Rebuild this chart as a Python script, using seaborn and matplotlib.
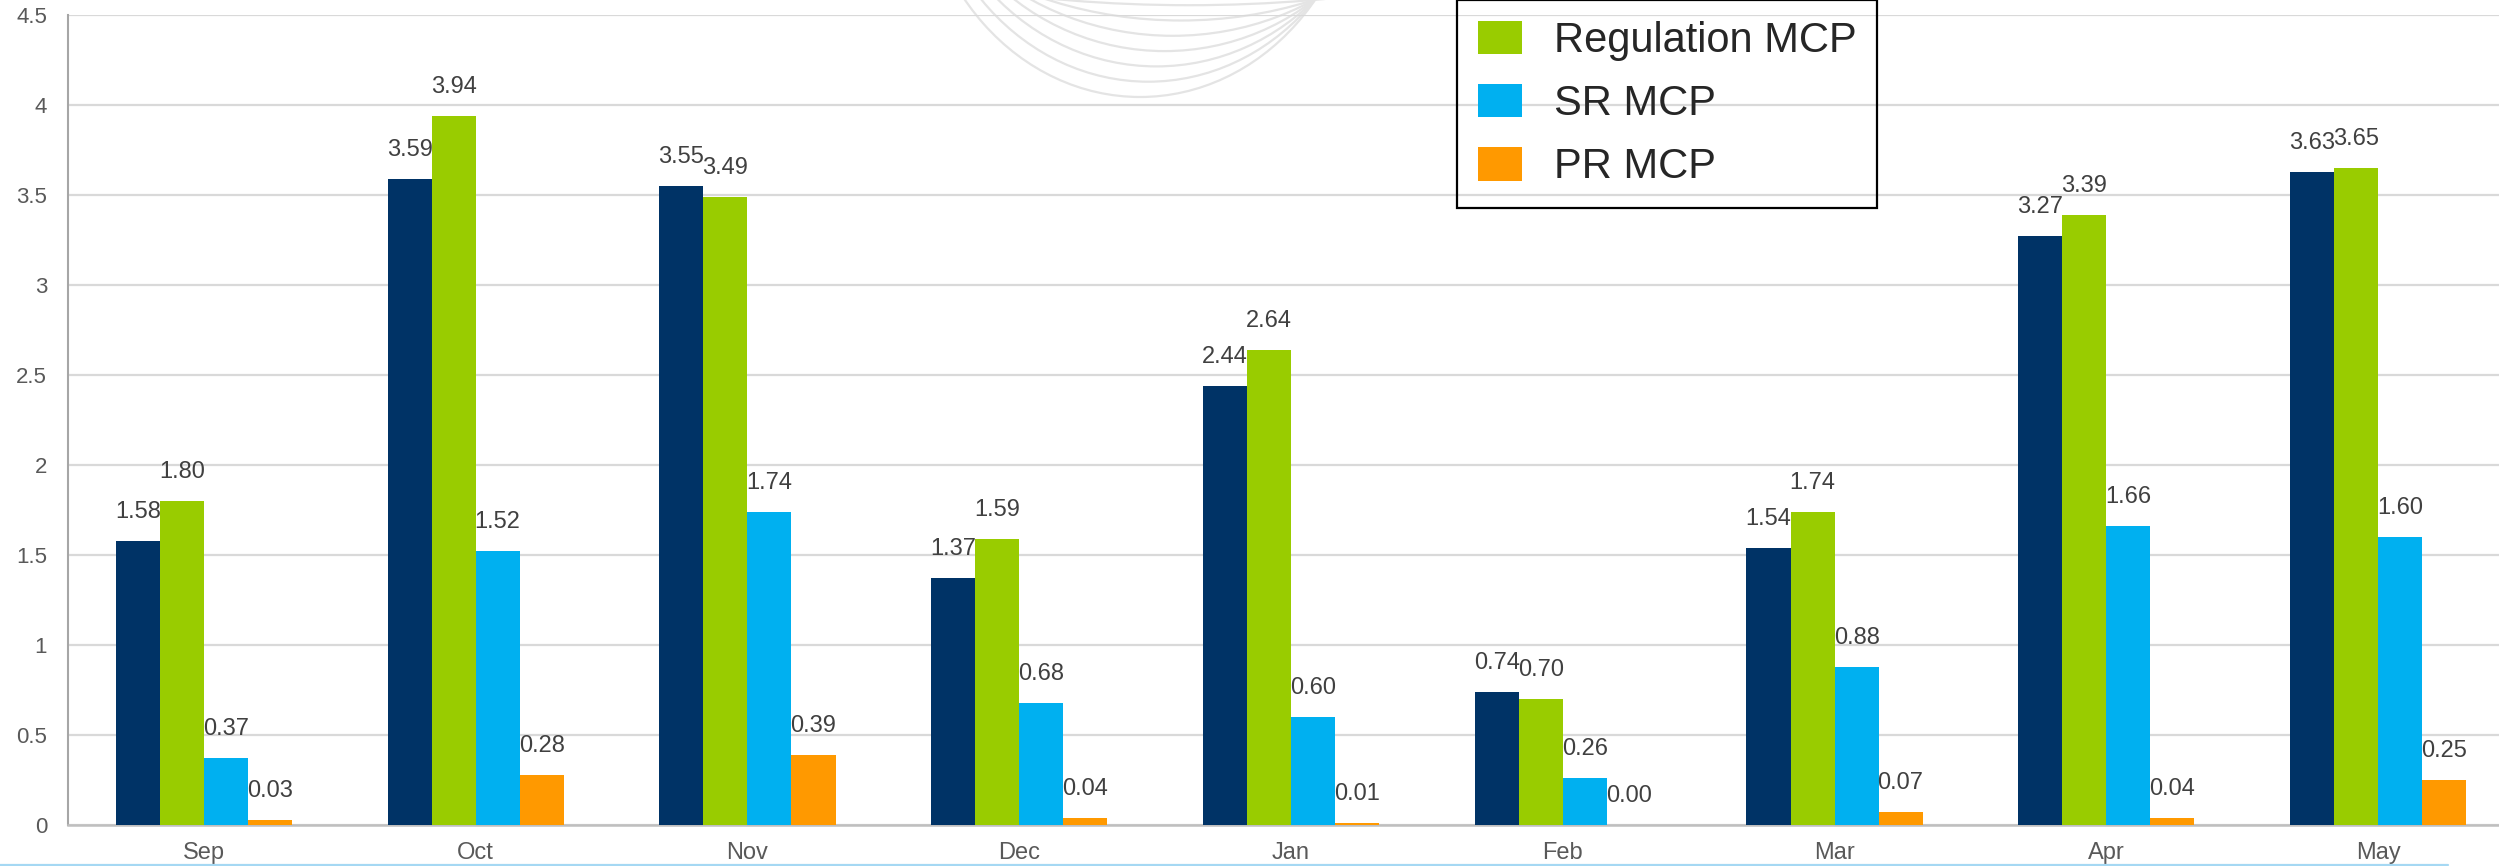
import matplotlib
matplotlib.use("Agg")
import matplotlib.pyplot as plt
from matplotlib.patches import Arc
from matplotlib.lines import Line2D
from matplotlib.ticker import FuncFormatter
import seaborn as sns
import pandas as pd

months = ["Sep", "Oct", "Nov", "Dec", "Jan", "Feb", "Mar", "Apr", "May"]
series_names = ["Energy MCP", "Regulation MCP", "SR MCP", "PR MCP"]
energy_mcp = [1.58, 3.59, 3.55, 1.37, 2.44, 0.74, 1.54, 3.27, 3.63]
regulation_mcp = [1.80, 3.94, 3.49, 1.59, 2.64, 0.70, 1.74, 3.39, 3.65]
sr_mcp = [0.37, 1.52, 1.74, 0.68, 0.60, 0.26, 0.88, 1.66, 1.60]
pr_mcp = [0.03, 0.28, 0.39, 0.04, 0.01, 0.00, 0.07, 0.04, 0.25]
colors = ["#003366", "#99CC00", "#00B0F0", "#FF9900"]

df = pd.DataFrame({
    "month": months * 4,
    "series": [s for s in series_names for _ in months],
    "value": energy_mcp + regulation_mcp + sr_mcp + pr_mcp,
})

sns.set_style("white")
plt.rcParams["font.family"] = ["Liberation Sans", "DejaVu Sans"]

W, H = 2499, 866
fig = plt.figure(figsize=(W / 100, H / 100), dpi=100)
fig.patch.set_facecolor("white")

# faint watermark arcs behind the plot
for i in range(7):
    bottom = 97 - 15.3 * i
    cx = 1140 + 8.2 * i
    half = 175 - 8.5 * i
    b = 250
    dy = b - bottom
    a = half / (1 - (dy / b) ** 2) ** 0.5
    arc = Arc((cx / 100, (H - (bottom - b)) / 100), 2 * a / 100, 2 * b / 100,
              theta1=180, theta2=360, transform=fig.dpi_scale_trans,
              color="#e4e4e4", lw=1.6, zorder=0)
    fig.add_artist(arc)

ax = fig.add_axes([68 / W, 41 / H, (2514 - 68) / W, 810 / H])
ax.set_facecolor("none")

sns.barplot(data=df, x="month", y="value", hue="series", palette=colors,
            width=0.648, saturation=1, linewidth=0, ax=ax, zorder=3)

ax.set_ylim(0, 4.5)
ax.set_yticks([0, 0.5, 1, 1.5, 2, 2.5, 3, 3.5, 4, 4.5])
ax.yaxis.set_major_formatter(FuncFormatter(lambda v, p: f"{v:g}"))
ax.grid(axis="y", color="#d9d9d9", linewidth=1.6, zorder=0)
ax.set_axisbelow(True)
ax.set_xlabel("")
ax.set_ylabel("")
ax.tick_params(axis="y", length=0, pad=15, labelsize=16, labelcolor="#595959")
ax.tick_params(axis="x", length=0, pad=12, labelsize=17, labelcolor="#595959")
for s in ["top", "right"]:
    ax.spines[s].set_visible(False)
ax.spines["left"].set_color("#a6a6a6")
ax.spines["left"].set_linewidth(1.5)
ax.spines["bottom"].set_color("#bfbfbf")
ax.spines["bottom"].set_linewidth(1.8)

for cont in ax.containers:
    ax.bar_label(cont, fmt="%.2f", padding=13, fontsize=17, color="#404040")

handles, labels = ax.get_legend_handles_labels()
ax.get_legend().remove()
leg = ax.legend(handles[1:], labels[1:], loc="lower left",
                bbox_to_anchor=(1457 / W, 1 - 208 / H), bbox_transform=fig.transFigure,
                fontsize=30, frameon=True, fancybox=False, framealpha=1,
                handlelength=1.05, handleheight=0.86, handletextpad=0.77,
                labelspacing=0.55, borderpad=0.5, borderaxespad=0)
leg.get_frame().set_facecolor("none")
leg.get_frame().set_edgecolor("black")
leg.get_frame().set_linewidth(1.6)

# light blue rule along the bottom edge
fig.add_artist(Line2D([0, 2448 / W], [1.5 / H, 1.5 / H], transform=fig.transFigure,
                      color="#a5d8f3", lw=1.6))

fig.savefig("out.png", dpi=100)
